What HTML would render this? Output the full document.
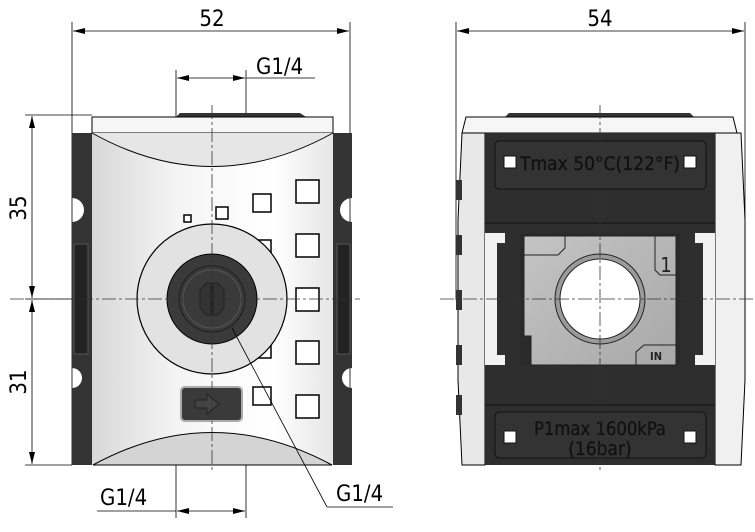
<!DOCTYPE html>
<html><head><meta charset="utf-8"><style>html,body{margin:0;padding:0;background:#fff}svg{display:block}</style></head><body>
<svg width="755" height="532" viewBox="0 0 755 532" xmlns="http://www.w3.org/2000/svg" font-family="'DejaVu Sans Condensed','DejaVu Sans','Liberation Sans',sans-serif">
<defs>
<linearGradient id="bg" x1="0" x2="1"><stop offset="0" stop-color="#d8d8d8"/><stop offset="0.35" stop-color="#f4f4f4"/><stop offset="0.75" stop-color="#fff"/><stop offset="1" stop-color="#e6e6e6"/></linearGradient>
<linearGradient id="pl" x1="0" y1="0" x2="1" y2="1"><stop offset="0" stop-color="#c4c4c4"/><stop offset="1" stop-color="#a8a8a8"/></linearGradient>
<marker id="a" viewBox="0 0 12 6" refX="12" refY="3" markerWidth="12" markerHeight="6" orient="auto-start-reverse" markerUnits="userSpaceOnUse"><path d="M0,0L12,3L0,6z" fill="#000"/></marker>
</defs>
<g stroke="#000" stroke-width="0.8" fill="none">
<line x1="72" y1="22" x2="72" y2="465"/><line x1="350" y1="22" x2="350" y2="465"/>
<line x1="73" y1="31" x2="349" y2="31" marker-start="url(#a)" marker-end="url(#a)"/>
<line x1="176" y1="70" x2="176" y2="117"/><line x1="246" y1="70" x2="246" y2="117"/>
<line x1="177" y1="78" x2="245" y2="78" marker-start="url(#a)" marker-end="url(#a)"/><line x1="246" y1="78" x2="315" y2="78"/>
<line x1="176" y1="462" x2="176" y2="518"/><line x1="246" y1="462" x2="246" y2="518"/>
<line x1="177" y1="511" x2="245" y2="511" marker-start="url(#a)" marker-end="url(#a)"/><line x1="97" y1="511" x2="176" y2="511"/>
<line x1="25" y1="115" x2="92" y2="115"/><line x1="25" y1="299" x2="72" y2="299"/><line x1="25" y1="465" x2="72" y2="465"/>
<line x1="32" y1="116" x2="32" y2="298" marker-start="url(#a)" marker-end="url(#a)"/>
<line x1="32" y1="300" x2="32" y2="464" marker-start="url(#a)" marker-end="url(#a)"/>
<line x1="456" y1="22" x2="456" y2="300"/><line x1="745" y1="22" x2="745" y2="300"/>
<line x1="457" y1="31" x2="744" y2="31" marker-start="url(#a)" marker-end="url(#a)"/>
</g>
<g font-size="22" fill="#000">
<text x="212" y="26" text-anchor="middle">52</text>
<text x="600" y="26" text-anchor="middle">54</text>
<text x="256" y="74">G1/4</text>
<text x="100" y="505">G1/4</text>
<text x="336" y="501">G1/4</text>
<text transform="translate(26,208) rotate(-90)" text-anchor="middle">35</text>
<text transform="translate(26,382) rotate(-90)" text-anchor="middle">31</text>
</g>

<!-- LEFT VIEW -->
<path d="M176,117 L180,113 L300,113 L306,117 Z" fill="#333"/>
<rect x="92" y="117" width="241" height="16" fill="#f6f6f6" stroke="#000"/>
<path d="M72,133 H92 V465 H72 V388 A10,10 0 0 0 72,368 V222 A10,10 0 0 0 72,198 Z" fill="#333"/>
<path d="M333,133 H352 V198 A10,10 0 0 0 352,222 V368 A10,10 0 0 0 352,388 V465 H333 Z" fill="#333"/>
<rect x="74" y="244" width="14" height="110" fill="#222" stroke="#555"/>
<rect x="337" y="244" width="13" height="110" fill="#222" stroke="#555"/>
<rect x="92" y="133" width="241" height="332" fill="url(#bg)"/>
<path d="M92,133 Q212,200 333,133" fill="#e6e6e6" stroke="#000"/>
<path d="M93,465 Q212,400 332,465 Z" fill="#d4d4d4" stroke="#000"/>
<g fill="#fff" stroke="#000" stroke-width="1.5">
<rect x="296" y="180" width="23" height="23"/><rect x="296" y="234" width="23" height="23"/><rect x="296" y="288" width="23" height="23"/><rect x="296" y="341" width="23" height="23"/><rect x="296" y="395" width="23" height="23"/>
<rect x="253" y="194" width="18" height="18"/><rect x="253" y="240" width="18" height="18"/><rect x="253" y="340" width="18" height="18"/><rect x="253" y="387" width="18" height="18"/>
<rect x="216" y="207" width="12" height="12"/><rect x="184" y="215" width="7" height="7"/>
</g>
<circle cx="212" cy="299" r="75" fill="#e2e2e2" stroke="#000" stroke-width="1.2"/>
<circle cx="212" cy="299" r="45" fill="#3a3a3a" stroke="#000"/>
<circle cx="212" cy="299" r="33" fill="none" stroke="#222" stroke-width="1.2"/>
<circle cx="212" cy="299" r="29" fill="none" stroke="#555"/>
<path d="M200,290 L206,283 H218 L224,290 V308 L218,315 H206 L200,308 Z" fill="#333" stroke="#222"/>
<line x1="212" y1="283" x2="212" y2="315" stroke="#222" stroke-width="3"/>
<rect x="181" y="387" width="61" height="34" rx="4" fill="#3a3a3a" stroke="#aaa" stroke-width="2"/>
<path d="M195,400 H207 V394 L219,404 L207,414 V408 H195 Z" fill="#444" stroke="#222"/>
<line x1="232" y1="328" x2="327" y2="507" stroke="#000" stroke-width="0.8"/>
<line x1="327" y1="507" x2="393" y2="507" stroke="#000" stroke-width="0.8"/>

<!-- RIGHT VIEW -->
<path d="M505,117 L509,113 L690,113 L694,117 Z" fill="#333"/>
<path d="M466,117 H733 L737,133 H462 Z" fill="#f6f6f6" stroke="#000"/>
<path d="M462,133 H485 V465 H462 L458,380 V220 Z" fill="#e8e8e8" stroke="#000"/>
<path d="M715,133 H741 L745,220 V380 L741,465 H715 Z" fill="#f0f0f0" stroke="#000"/>
<g fill="#333"><rect x="456" y="180" width="6" height="20"/><rect x="456" y="235" width="6" height="20"/><rect x="456" y="290" width="6" height="20"/><rect x="456" y="345" width="6" height="20"/><rect x="456" y="395" width="6" height="20"/></g>
<rect x="485" y="133" width="230" height="332" fill="#2e2e2e"/>
<line x1="485" y1="223" x2="715" y2="223" stroke="#111"/><line x1="485" y1="405" x2="715" y2="405" stroke="#111"/>
<rect x="495" y="141" width="211" height="48" rx="4" fill="#333" stroke="#111"/>
<rect x="495" y="412" width="211" height="46" rx="4" fill="#333" stroke="#111"/>
<g fill="#fff" stroke="#111"><rect x="504" y="156" width="12" height="12"/><rect x="684" y="156" width="12" height="12"/><rect x="504" y="431" width="12" height="12"/><rect x="684" y="431" width="12" height="12"/></g>
<g font-size="19" fill="#111" stroke="#111" stroke-width="0.3">
<text x="520" y="170" textLength="160" lengthAdjust="spacingAndGlyphs">Tmax 50°C(122°F)</text>
<text x="534" y="435" textLength="132" lengthAdjust="spacingAndGlyphs">P1max 1600kPa</text>
<text x="600" y="455" text-anchor="middle">(16bar)</text></g>
<path d="M485,233 H505 V243 H497 V355 H505 V365 H485 Z M715,233 H695 V243 H703 V355 H695 V365 H715 Z" fill="#f2f2f2"/>
<rect x="520" y="233" width="160" height="132" fill="#2a2a2a"/>
<path d="M524,236 H676 V365 H531 V336 H524 Z" fill="url(#pl)" stroke="#222"/>
<path d="M524,236 H565 V248 L558,255 H524" fill="none" stroke="#222"/>
<path d="M655,236 V270 L660,275 H676" fill="none" stroke="#222"/>
<path d="M636,365 V352 L644,345 H676" fill="none" stroke="#222"/>
<text x="666" y="272" font-size="20" fill="#222" text-anchor="middle">1</text>
<text x="656" y="360" font-size="11" font-weight="bold" fill="#222" text-anchor="middle">IN</text>
<circle cx="600" cy="299" r="45" fill="#9a9a9a" stroke="#222"/>
<circle cx="600" cy="299" r="40" fill="#fff" stroke="#222"/>

<g stroke="#333" stroke-width="0.8" stroke-dasharray="14,3,3,3" fill="none">
<line x1="212" y1="105" x2="212" y2="470"/><line x1="10" y1="299" x2="360" y2="299"/>
<line x1="600" y1="105" x2="600" y2="470"/><line x1="440" y1="299" x2="755" y2="299"/>
</g>
</svg>
</body></html>
